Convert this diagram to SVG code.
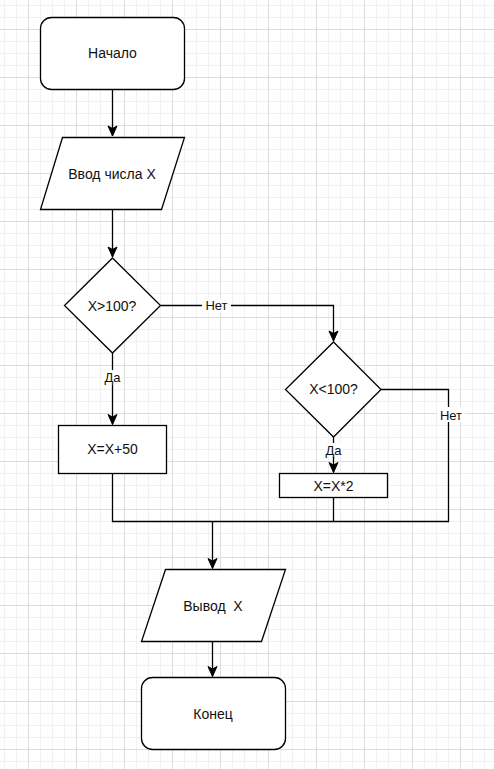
<svg xmlns="http://www.w3.org/2000/svg" width="494" height="769" viewBox="0 0 494 769">
<defs>
<pattern id="minor" patternUnits="userSpaceOnUse" x="4" y="5" width="12" height="12">
<path d="M0.5 0V12M0 0.5H12" stroke="#f1f1f1" stroke-width="1" fill="none"/>
</pattern>
<pattern id="major" patternUnits="userSpaceOnUse" x="28" y="29" width="48" height="48">
<path d="M0.5 0V48M0 0.5H48" stroke="#dcdcdc" stroke-width="1" fill="none"/>
</pattern>
<marker id="arr" markerUnits="userSpaceOnUse" markerWidth="12" markerHeight="12" viewBox="0 0 12 12" refX="11" refY="6" orient="auto">
<path d="M1 1.5L11 6L1 10.5L3.5 6Z" fill="#000" stroke="#000" stroke-width="1" stroke-linejoin="miter"/>
</marker>
<style>
.n{fill:#fff;stroke:#000;stroke-width:1.3}
.t{font-family:"Liberation Sans",Arial,sans-serif;font-size:14px;fill:#111;text-anchor:middle;white-space:pre}
.l{font-family:"Liberation Sans",Arial,sans-serif;font-size:13px;fill:#111;text-anchor:middle}
.e{fill:none;stroke:#000;stroke-width:1.3}
.lb{fill:#fff}
</style>
</defs>
<rect width="494" height="769" fill="#fff"/>
<rect width="494" height="769" fill="url(#minor)"/>
<rect width="494" height="769" fill="url(#major)"/>

<g id="connectors">
<path class="e" d="M112.5 89V136" marker-end="url(#arr)"/>
<path class="e" d="M112.5 209V257" marker-end="url(#arr)"/>
<path class="e" d="M160.5 305.5H333.5V341" marker-end="url(#arr)"/>
<path class="e" d="M112.5 353V424.5" marker-end="url(#arr)"/>
<path class="e" d="M333.5 437V472.5" marker-end="url(#arr)"/>
<path class="e" d="M381 389.5H448.5V521.5H112.5V473.5"/>
<path class="e" d="M333.5 497.5V521.5"/>
<path class="e" d="M212.5 521.5V568.5" stroke-width="2" marker-end="url(#arr)"/>
<path class="e" d="M212.5 641V676.5" marker-end="url(#arr)"/>
<rect class="lb" x="202" y="298" width="29" height="15"/>
<text class="l" x="216.5" y="310">Нет</text>
<rect class="lb" x="103" y="370" width="19" height="15"/>
<text class="l" x="112.5" y="382">Да</text>
<rect class="lb" x="325" y="443" width="17" height="14"/>
<text class="l" x="333.5" y="455">Да</text>
<rect class="lb" x="437" y="407" width="28" height="15"/>
<text class="l" x="451" y="419.5">Нет</text>
</g>

<g id="start">
<rect class="n" x="40.5" y="17.5" width="144" height="72" rx="11"/>
<text class="t" x="112.5" y="58">Начало</text>
</g>
<g id="input">
<polygon class="n" points="62.5,137.5 184.5,137.5 161.5,209.5 40.5,209.5"/>
<text class="t" x="112" y="179">Ввод числа X</text>
</g>
<g id="cond1">
<polygon class="n" points="112.5,258 160.5,305.5 112.5,353 64.5,305.5"/>
<text class="t" x="112" y="310.5">X&gt;100?</text>
</g>
<g id="cond2">
<polygon class="n" points="333.5,342 381,389.5 333.5,437 285.5,389.5"/>
<text class="t" x="333.5" y="394">X&lt;100?</text>
</g>
<g id="plus50">
<rect class="n" x="58.5" y="425.5" width="108" height="48"/>
<text class="t" x="112.5" y="454">X=X+50</text>
</g>
<g id="times2">
<rect class="n" x="279.5" y="473.5" width="108" height="24"/>
<text class="t" x="333.5" y="490.5">X=X*2</text>
</g>
<g id="output">
<polygon class="n" points="165.5,569.5 285.5,569.5 261.5,641.5 141.5,641.5"/>
<text class="t" x="213" y="610.5">Вывод  X</text>
</g>
<g id="end">
<rect class="n" x="141.5" y="677.5" width="144" height="72" rx="11"/>
<text class="t" x="213" y="718.5">Конец</text>
</g>
</svg>
